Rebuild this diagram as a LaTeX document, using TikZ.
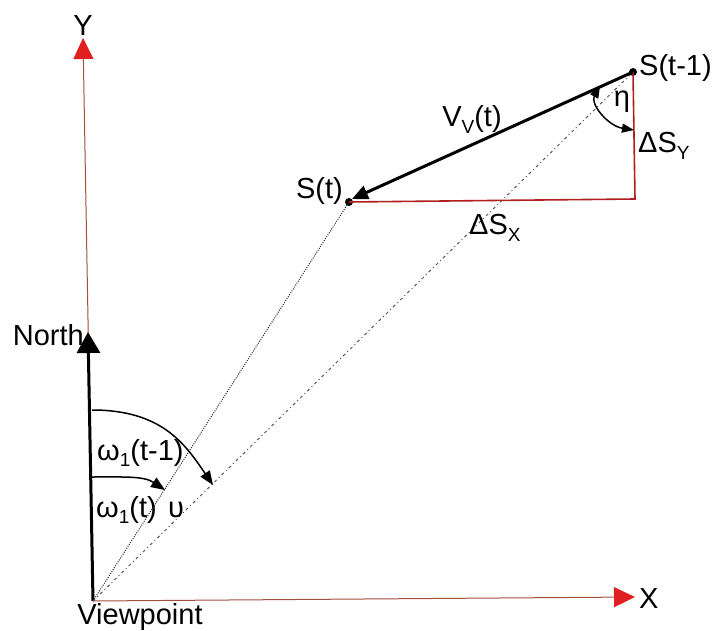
\documentclass[tikz,border=0pt]{standalone}
\usepackage{fontspec}
\setmainfont{Liberation Sans}
\usetikzlibrary{arrows.meta}
\definecolor{axisc}{HTML}{A0503C}
\definecolor{redl}{HTML}{B01E1E}
\definecolor{tipred}{HTML}{E02020}
\newcommand\sbx[1]{\raisebox{-0.22em}{\fontsize{19}{19}\selectfont #1}}
\begin{document}
\begin{tikzpicture}[x=1pt,y=-1pt,
  lab/.style={inner sep=0pt, font=\fontsize{29}{34}\selectfont},
  axisline/.style={draw=axisc, line width=1pt, -{Triangle[length=21pt,width=20pt,color=tipred]}},
  northarrow/.style={draw=black, line width=3pt, -{Triangle[length=21pt,width=23pt]}},
  velarrow/.style={draw=black, line width=3pt, -{Triangle[length=16pt,width=14pt]}},
  redline/.style={draw=redl, line width=1.6pt},
  sightnow/.style={draw=black!85, line width=1pt, dash pattern=on 1pt off 1.3pt},
  sightprev/.style={draw=black!65, line width=1pt, dash pattern=on 3pt off 3pt on 1pt off 3pt},
  anglearc/.style={draw=black, line width=1.5pt, -{Triangle[length=14pt,width=11pt]}},
  etaarc/.style={draw=black, line width=1.5pt, {Triangle[length=12pt,width=9pt]}-{Triangle[length=12pt,width=9pt]}},
  pt/.style={circle, fill=black, inner sep=0pt, minimum size=8pt}]
\useasboundingbox (0,0) rectangle (715,631);

% key points
\coordinate (O) at (93,601);
\coordinate (Ytip) at (83,38);
\coordinate (Xtip) at (635,597);
\coordinate (Ntip) at (88,332);
\node[pt] (St) at (349,202) {};
\node[pt] (St1) at (633,72) {};
\coordinate (C) at (635,199);

% axes
\draw[axisline] (O) -- (Ytip);
\draw[axisline] (O) -- (Xtip);
\draw[northarrow] (O) -- (Ntip);

% sight lines
\draw[sightnow] (O) -- (St.center);
\draw[sightprev] (O) -- (St1.center);

% displacement triangle
\draw[redline] (St.center) -- (C) -- (St1.center);
\draw[velarrow] (St1.center) -- (St.north east);

% angle arcs
\coordinate (a1s) at (92,410);
\coordinate (a1e) at (213,485);
\draw[anglearc] (a1s) .. controls (162,410) and (185,444) .. (a1e);
\coordinate (a2s) at (92,477);
\coordinate (a2e) at (165,490);
\draw[anglearc] (a2s) .. controls (125,477) and (144,476) .. (a2e);
\coordinate (es) at (600,86);
\coordinate (ee) at (634,130);
\draw[etaarc] (es) .. controls (590,104) and (608,126) .. (ee);

% labels
\node[lab, anchor=base] (lY) at (83,36) {Y};
\node[lab, anchor=base west] (lX) at (639,608) {X};
\node[lab, anchor=base east] (lN) at (84,345) {North};
\node[lab, anchor=base] (lV) at (140,624) {Viewpoint};
\node[lab, anchor=base east] (lSt) at (343,199) {S(t)};
\node[lab, anchor=base west] (lSt1) at (639,76) {S(t-1)};
\node[lab, anchor=base] (lVv) at (472,127) {V\sbx{V}(t)};
\node[lab, anchor=base west] (ldY) at (638,153) {ΔS\sbx{Y}};
\node[lab, anchor=base west] (ldX) at (469,235) {ΔS\sbx{X}};
\node[lab, anchor=base] (leta) at (622,107) {η};
\node[lab, anchor=base west] (lw1) at (97,460) {ω\sbx{1}(t-1)};
\node[lab, anchor=base west] (lw2) at (96,517) {ω\sbx{1}(t)};
\node[lab, anchor=base] (lups) at (176,517) {υ};
\end{tikzpicture}
\end{document}
